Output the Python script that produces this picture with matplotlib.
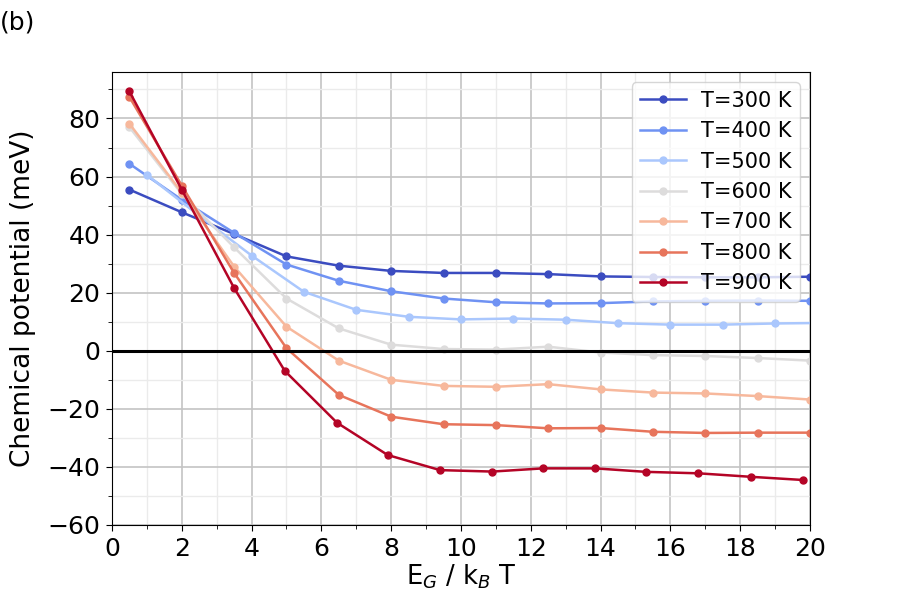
import numpy as np
import matplotlib
matplotlib.use("Agg")
import matplotlib.pyplot as plt
from matplotlib.ticker import MultipleLocator

labels = ["T=300 K", "T=400 K", "T=500 K", "T=600 K", "T=700 K", "T=800 K", "T=900 K"]

x_std = [0.5, 2, 3.5, 5, 6.5, 8, 9.5, 11, 12.5, 14, 15.5, 17, 18.5, 20]
x_500 = [1, 2.5, 4, 5.5, 7, 8.5, 10, 11.5, 13, 14.5, 16, 17.5, 19, 20.5]
x_900 = [0.5, 2.0, 3.5, 4.95, 6.45, 7.9, 9.4, 10.9, 12.35, 13.85, 15.3, 16.8, 18.3, 19.8]

y_300 = [55.5, 47.7, 40.2, 32.5, 29.3, 27.5, 26.8, 26.8, 26.4, 25.6, 25.4, 25.3, 25.3, 25.5]
y_400 = [64.4, 52.0, 40.6, 29.7, 24.1, 20.5, 18.0, 16.7, 16.3, 16.4, 17.0, 17.2, 17.3, 17.2]
y_500 = [60.6, 46.5, 32.8, 20.3, 14.1, 11.7, 10.8, 11.1, 10.7, 9.5, 9.0, 9.0, 9.4, 9.6]
y_600 = [77.0, 54.0, 35.6, 18.0, 7.7, 2.1, 0.6, 0.4, 1.4, -0.6, -1.5, -1.8, -2.5, -3.4]
y_700 = [78.2, 54.5, 29.0, 8.3, -3.4, -10.0, -12.1, -12.4, -11.5, -13.3, -14.4, -14.7, -15.6, -16.8]
y_800 = [87.4, 56.9, 26.8, 0.9, -15.2, -22.7, -25.3, -25.6, -26.7, -26.6, -27.9, -28.3, -28.2, -28.2]
y_900 = [89.3, 55.5, 21.6, -6.9, -24.8, -35.9, -41.1, -41.6, -40.5, -40.5, -41.7, -42.2, -43.4, -44.5]

xs = [x_std, x_std, x_500, x_std, x_std, x_std, x_900]
ys = [y_300, y_400, y_500, y_600, y_700, y_800, y_900]

fig = plt.figure(figsize=(9, 6), dpi=100)
ax = fig.add_axes([0.1244, 0.125, 0.7756, 0.755])

colors = plt.cm.coolwarm(np.linspace(0, 1, 7))
for xv, yv, c, lab in zip(xs, ys, colors, labels):
    ax.plot(xv, yv, '-o', color=c, lw=1.8, ms=5, label=lab)

ax.axhline(0, color='black', lw=2.2)

ax.set_xlim(0, 20)
ax.set_ylim(-60, 96)
ax.xaxis.set_major_locator(MultipleLocator(2))
ax.xaxis.set_minor_locator(MultipleLocator(1))
ax.yaxis.set_major_locator(MultipleLocator(20))
ax.yaxis.set_minor_locator(MultipleLocator(10))
ax.grid(which='major', color='#c4c4c4', lw=1.2)
ax.grid(which='minor', color='#ebebeb', lw=1.0)
ax.set_axisbelow(True)
ax.tick_params(which='major', labelsize=18, length=4.5, pad=4)
ax.tick_params(which='minor', length=3)

ax.set_xlabel("E$_G$ / k$_B$ T", fontsize=18.5, labelpad=1)
ax.set_ylabel("Chemical potential (meV)", fontsize=19, labelpad=8)

ax.legend(loc='upper right', fontsize=15, framealpha=0.8, edgecolor='#cccccc',
          borderaxespad=0.5, handlelength=2.2, handletextpad=0.7, labelspacing=0.5)

fig.text(0.0, 0.962, "(b)", fontsize=18, ha='left', va='center')

fig.savefig("out.png", dpi=100)
